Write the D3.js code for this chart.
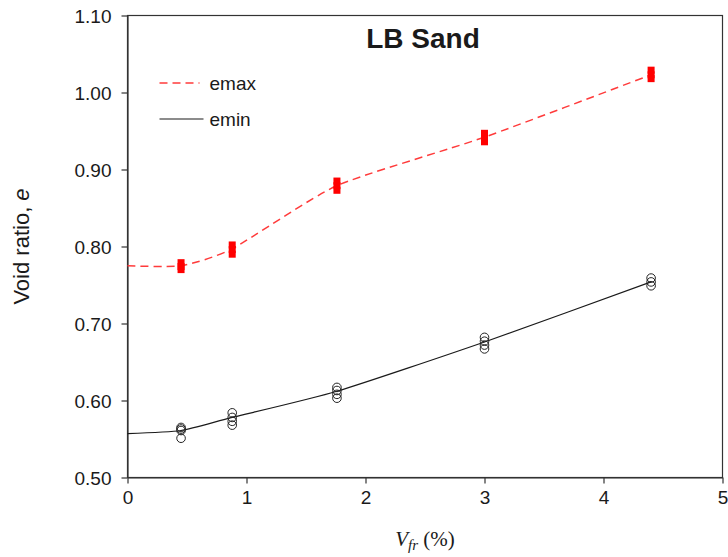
<!DOCTYPE html>
<html>
<head>
<meta charset="utf-8">
<script src="https://cdn.jsdelivr.net/npm/d3@7"></script>
<style>
  body { margin: 0; background: #fff; }
  svg text { font-family: Arial, "Liberation Sans", sans-serif; fill: #1a1a1a; }
</style>
</head>
<body>
<div id="chart"></div>
<script>
/* measured points */
var vfr = [0.45, 0.88, 1.76, 3.0, 4.4];
var emaxPoints = [
	[0.770, 0.774, 0.779],
	[0.790, 0.796, 0.802],
	[0.873, 0.879, 0.885],
	[0.936, 0.941, 0.947],
	[1.018, 1.023, 1.029]
];
var eminPoints = [
	[0.551, 0.561, 0.563, 0.565],
	[0.568, 0.573, 0.578, 0.584],
	[0.603, 0.608, 0.613, 0.617],
	[0.667, 0.672, 0.677, 0.682],
	[0.749, 0.754, 0.759]
];

/* fitted trend lines */
var trendX = [0, 0.45, 0.88, 1.76, 3.0, 4.4];
var emaxTrend = [0.775, 0.775, 0.797, 0.879, 0.942, 1.023];
var eminTrend = [0.557, 0.561, 0.578, 0.612, 0.676, 0.754];

var xTicks = [0, 1, 2, 3, 4, 5];
var yTicks = [0.50, 0.60, 0.70, 0.80, 0.90, 1.00, 1.10];
var legendItems = ["emax", "emin"];

var width = 728,
    height = 557,
    margin = {top: 15.5, right: 5.5, bottom: 79.5, left: 127.5},
    w = width - margin.left - margin.right,
    h = height - margin.top - margin.bottom;

var svg = d3.select("#chart").append("svg")
	.attr("width", width)
	.attr("height", height);

var g = svg.append("g")
	.attr("transform", "translate(" + margin.left + "," + margin.top + ")");

var x = d3.scaleLinear().domain([0, 5]).range([0, w]),
    y = d3.scaleLinear().domain([0.5, 1.1]).range([h, 0]);

/* frame */
g.append("rect")
	.attr("width", w)
	.attr("height", h)
	.attr("fill", "none")
	.attr("stroke", "#333")
	.attr("stroke-width", 1.2);

var xAxis = g.append("g")
	.attr("transform", "translate(0," + h + ")")
	.call(d3.axisBottom(x).tickValues(xTicks).tickFormat(d3.format("d")).tickSize(6).tickSizeOuter(0));

var yAxis = g.append("g")
	.call(d3.axisLeft(y).tickValues(yTicks).tickFormat(d3.format(".2f")).tickSize(6).tickSizeOuter(0));

[xAxis, yAxis].forEach(function(a) {
	a.select(".domain").attr("stroke", "#333").attr("stroke-width", 1.2);
	a.selectAll(".tick line").attr("stroke", "#333").attr("stroke-width", 1.2);
	a.selectAll(".tick text").attr("font-size", 19).attr("fill", "#1a1a1a")
		.attr("font-family", "Arial, 'Liberation Sans', sans-serif");
});
xAxis.selectAll(".tick text").attr("y", 10).attr("dy", "0.85em");
yAxis.selectAll(".tick text").attr("x", -16).attr("dy", "0.35em");

/* trend lines */
var line = d3.line()
	.x(function(d) { return x(d[0]); })
	.y(function(d) { return y(d[1]); })
	.curve(d3.curveCardinal.tension(0.4));

g.append("path")
	.datum(d3.zip(trendX, emaxTrend))
	.attr("d", line)
	.attr("fill", "none")
	.attr("stroke", "#ff3b3b")
	.attr("stroke-width", 1.5)
	.attr("stroke-dasharray", "8,5");

g.append("path")
	.datum(d3.zip(trendX, eminTrend))
	.attr("d", line)
	.attr("fill", "none")
	.attr("stroke", "#1a1a1a")
	.attr("stroke-width", 1.2);

/* emin circles */
vfr.forEach(function(v, i) {
	g.selectAll(null)
		.data(eminPoints[i])
		.enter().append("circle")
		.attr("cx", x(v))
		.attr("cy", function(d) { return y(d); })
		.attr("r", 4.3)
		.attr("fill", "none")
		.attr("stroke", "#222")
		.attr("stroke-width", 1);
});

/* emax squares */
var sq = 7;
vfr.forEach(function(v, i) {
	g.selectAll(null)
		.data(emaxPoints[i])
		.enter().append("rect")
		.attr("x", x(v) - sq / 2)
		.attr("y", function(d) { return y(d) - sq / 2; })
		.attr("width", sq)
		.attr("height", sq)
		.attr("fill", "#ff0000");
});

/* title */
g.append("text")
	.attr("x", x(2.5) - 2)
	.attr("y", 32)
	.attr("text-anchor", "middle")
	.attr("font-size", 28)
	.attr("font-weight", "bold")
	.text("LB Sand");

/* legend */
var legend = g.append("g")
	.selectAll("g")
	.data(legendItems)
	.enter().append("g")
	.attr("transform", function(d, i) { return "translate(32," + (67.5 + i * 36) + ")"; });

legend.append("line")
	.attr("x1", 0)
	.attr("x2", function(d, i) { return i == 0 ? 40 : 44; })
	.attr("stroke", function(d, i) { return i == 0 ? "#ff3b3b" : "#1a1a1a"; })
	.attr("stroke-width", function(d, i) { return i == 0 ? 1.5 : 1.2; })
	.attr("stroke-dasharray", function(d, i) { return i == 0 ? "8,5" : null; });

legend.append("text")
	.attr("x", 50)
	.attr("dy", "0.35em")
	.attr("font-size", 19)
	.text(function(d) { return d; });

/* axis titles */
svg.append("text")
	.attr("transform", "translate(29," + (margin.top + h / 2) + ") rotate(-90)")
	.attr("text-anchor", "middle")
	.attr("font-size", 22)
	.html("Void ratio, <tspan font-style='italic'>e</tspan>");

var xl = svg.append("text")
	.attr("x", margin.left + w / 2)
	.attr("y", 546)
	.attr("text-anchor", "middle")
	.attr("font-size", 21)
	.style("font-family", "'Liberation Serif', 'DejaVu Serif', serif");
xl.append("tspan").attr("font-style", "italic").text("V");
xl.append("tspan").attr("font-style", "italic").attr("font-size", 15).attr("dy", 4).text("fr");
xl.append("tspan").attr("dy", -4).text(" (%)");
</script>
</body>
</html>
